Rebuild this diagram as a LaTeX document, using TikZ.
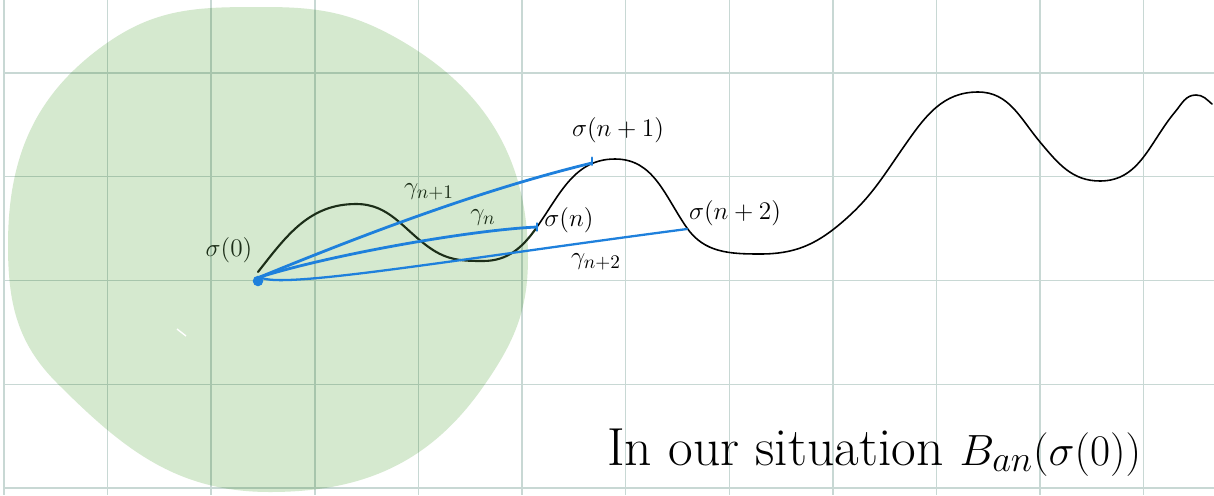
\documentclass[tikz,border=0pt]{standalone}
\usepackage{amsmath,amssymb}
\usepackage{xcolor}
\usepackage{tikz}
\usetikzlibrary{calc,positioning}
\definecolor{sketchGreen}{RGB}{213,233,207}
\definecolor{sketchGrid}{RGB}{200,216,212}
\definecolor{sketchBlue}{RGB}{30,128,220}
\definecolor{sketchInk}{RGB}{28,46,24}

\begin{document}
\begin{tikzpicture}[x=0.02cm, y=-0.02cm,
  gridline/.style={sketchGrid, line width=0.8pt},
  gammaline/.style={sketchBlue, line width=1.6pt, line cap=round},
  inklabel/.style={inner sep=0pt, font=\fontsize{15}{18}\selectfont}]
\useasboundingbox (0,0) rectangle (1214,495);
\fill[white] (0,0) rectangle (1214,495);
% grid paper
\foreach \k in {0,...,11}
{
\draw[gridline] ({4+103.6*\k},0) -- ({4+103.6*\k},495);
}
\foreach \k in {0,...,4}
{
\draw[gridline] (4,{73+103.75*\k}) -- (1214,{73+103.75*\k});
}
% the ball round sigma(0)
\begin{scope}[blend mode=multiply]
\fill[sketchGreen] (8,245) to[out=90,in=215] (107,43) to[out=35,in=180] (265,7)
  to[out=0,in=150] (400,40) to[out=-30,in=90] (528,258)
  to[out=-90,in=55] (483,387) to[out=-125,in=0] (270,492)
  to[out=180,in=-45] (57,383) to[out=135,in=-90] cycle;
\end{scope}
\draw[white, line width=0.8pt] (177,329) -- (186,336);
% the curve sigma
\draw[sketchInk, line width=1.2pt, line cap=round] (258,272) to[out=52,in=180] (356,204)
  to[out=0,in=145] (430,248) to[out=-35,in=180] (483,261) to[out=0,in=235] (537,227);
\draw[black, line width=0.9pt, line cap=round] (537,227)
  to[out=55,in=180] (615,159) to[out=0,in=125] (687,228)
  to[out=-55,in=180] (760,254) to[out=0,in=220] (840,224)
  to[out=40,in=235] (905,145) to[out=55,in=180] (978,92)
  to[out=0,in=130] (1040,142) to[out=-50,in=180] (1100,181)
  to[out=0,in=230] (1175,112) to[out=50,in=180] (1196,95)
  to[out=0,in=140] (1212,104);
\coordinate (s0) at (260,277);
\coordinate (sn) at (537,227);
\coordinate (sn1) at (592,163);
\coordinate (sn2) at (687,229);
% the paths gamma
\draw[gammaline] (s0) .. controls (360,236) and (480,190) .. (sn1);
\draw[gammaline] (s0) .. controls (330,255) and (470,230) .. (sn);
\draw[gammaline, line width=1.3pt] (s0) .. controls (278,290) and (450,260) .. (sn2);
\fill[sketchBlue] (258,281) circle (3pt);
\draw[gammaline] ([yshift=3pt]sn1) -- ([yshift=-1pt]sn1);
\draw[gammaline] ([yshift=2pt]sn) -- ([yshift=-2pt]sn);
% labels
\node[inklabel, text=sketchInk] (lblSigmaZero) at (229,250) {$\sigma(0)$};
\node[inklabel, text=sketchInk] (lblGammaNext) at (429,192) {$\gamma_{n+1}$};
\node[inklabel, text=sketchInk] (lblGammaN) at (483,218) {$\gamma_n$};
\node[inklabel] (lblSigmaN) at (569,220) {$\sigma(n)$};
\node[inklabel] (lblSigmaNext) at (618,130) {$\sigma(n+1)$};
\node[inklabel] (lblSigmaAfter) at (735,213) {$\sigma(n+2)$};
\node[inklabel] (lblGammaAfter) at (596,262) {$\gamma_{n+2}$};
\node[font=\fontsize{30.5}{34}\selectfont, anchor=base west, inner sep=0pt] (caption) at (607,465) {In our situation $B_{an}(\sigma(0))$};
\end{tikzpicture}
\end{document}
